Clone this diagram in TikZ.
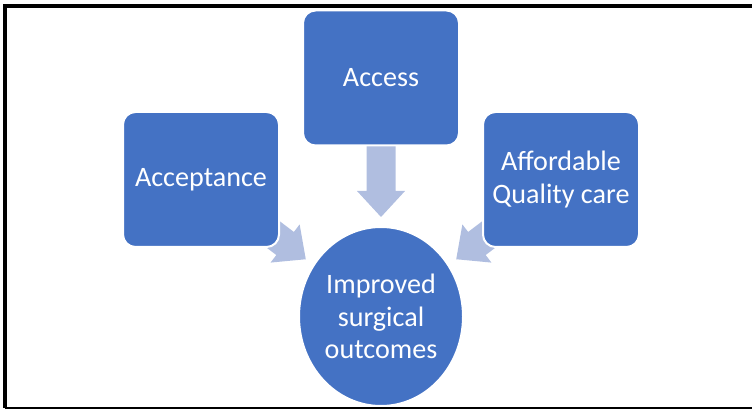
\documentclass[tikz,border=0pt]{standalone}
\usepackage{fontspec}
\setmainfont{Carlito}
\usetikzlibrary{calc,backgrounds,shapes.geometric}

\definecolor{boxblue}{RGB}{68,114,196}
\definecolor{arrowblue}{RGB}{176,190,224}

% wide arrow from the middle of #1 to just short of the rim of #2
\newcommand{\blockarrow}[2]{%
  \path (#1.center) -- (#2) coordinate[pos=1] (rim);
  \coordinate (tip) at ($(rim)!0.18cm!(#1.center)$);
  \coordinate (neck) at ($(tip)!0.52cm!(#1.center)$);
  \fill[arrowblue] ($(#1.center)!0.29cm!90:(tip)$) -- ($(neck)!0.29cm!90:(tip)$)
    -- ($(neck)!0.48cm!90:(tip)$) -- (tip) -- ($(neck)!0.48cm!-90:(tip)$)
    -- ($(neck)!0.29cm!-90:(tip)$) -- ($(#1.center)!0.29cm!-90:(tip)$) -- cycle;
}

\begin{document}
\begin{tikzpicture}
\tikzstyle{factor}=[rectangle, rounded corners=0.25cm, fill=boxblue, draw=white,
  line width=0.04cm, minimum width=3.12cm, minimum height=2.7cm, inner sep=0pt,
  align=center, text=white, font=\fontsize{16}{18.5}\selectfont]
\tikzstyle{goal}=[factor, ellipse, minimum width=3.28cm, minimum height=3.58cm]
\useasboundingbox (0,0) rectangle (15.04,-8.18);
% frame round the figure
\draw[line width=0.08cm] (15.04,-0.12) -- (0.1,-0.12) -- (0.1,-8.16);
\draw[line width=0.03cm] (0.1,-8.16) -- (15.04,-8.16);
\node[factor] (access) at (7.62,-1.56) {Access};
\node[factor] (accept) at (4.02,-3.59) {Acceptance};
\node[factor] (afford) at (11.22,-3.59) {Affordable\\Quality care};
\node[goal] (outcome) at (7.62,-6.33) {Improved\\surgical\\outcomes};
\begin{scope}[on background layer]
\blockarrow{accept}{outcome}
\blockarrow{access}{outcome}
\blockarrow{afford}{outcome}
\end{scope}
\end{tikzpicture}
\end{document}
